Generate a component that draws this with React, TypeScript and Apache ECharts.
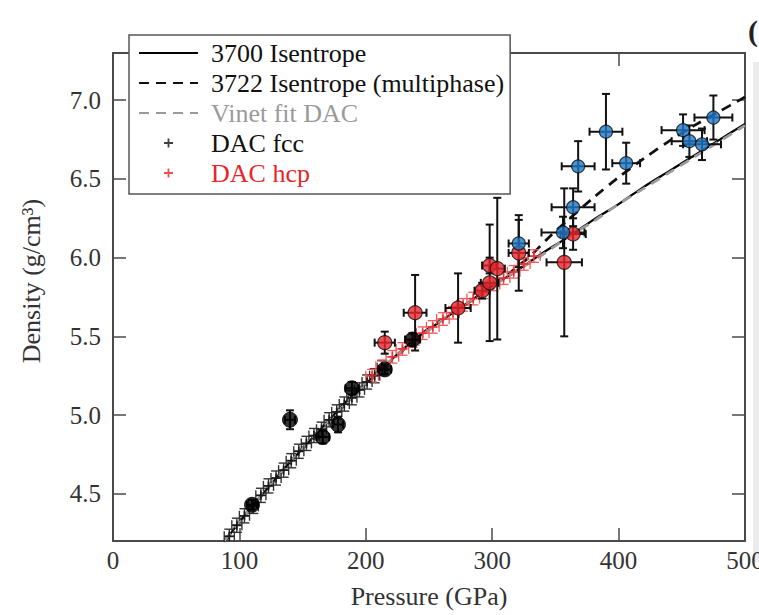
import React, { useEffect, useRef } from "react";
import * as echarts from "echarts";

// ---------- data ----------
const xTicks = [0, 100, 200, 300, 400, 500];
const yTicks = [4.5, 5.0, 5.5, 6.0, 6.5, 7.0];

// 3700 isentrope (solid)
const isoP = [88, 100, 110, 125, 140, 155, 170, 185, 200, 220, 240, 260, 280, 300, 320, 340, 360, 380, 400, 420, 440, 460, 480, 500];
const iso3700 = [4.195, 4.32, 4.42, 4.56, 4.70, 4.83, 4.96, 5.09, 5.20, 5.35, 5.49, 5.60, 5.71, 5.82, 5.92, 6.03, 6.13, 6.24, 6.34, 6.45, 6.55, 6.65, 6.75, 6.85];

// 3722 isentrope (multiphase, dashed)
const multiP = [88, 100, 125, 150, 175, 200, 225, 250, 275, 300, 315, 330, 345, 360, 380, 400, 420, 440, 460, 480, 500];
const iso3722 = [4.195, 4.32, 4.56, 4.79, 5.00, 5.20, 5.38, 5.55, 5.68, 5.82, 5.91, 6.01, 6.13, 6.24, 6.38, 6.51, 6.63, 6.74, 6.84, 6.93, 7.02];

// Vinet fit DAC (grey dashed)
const vinetP = [88, 100, 110, 125, 140, 155, 170, 185, 200, 220, 240, 260, 280, 300, 320, 340, 360, 380, 400, 420, 440, 460, 480, 500];
const vinetRho = [4.20, 4.32, 4.42, 4.56, 4.70, 4.83, 4.96, 5.08, 5.20, 5.35, 5.48, 5.60, 5.71, 5.82, 5.92, 6.02, 6.13, 6.23, 6.34, 6.44, 6.54, 6.64, 6.74, 6.84];

// DAC fcc (black crosses)
const fccP = [92, 98, 104, 111, 117, 123, 129, 135, 141, 147, 153, 159, 165, 171, 177, 183, 189, 195, 201, 207, 213];
const fccRho = [4.23, 4.30, 4.36, 4.42, 4.49, 4.55, 4.60, 4.65, 4.71, 4.77, 4.82, 4.87, 4.91, 4.97, 5.02, 5.07, 5.11, 5.16, 5.21, 5.25, 5.30];
const fccErrP = [4, 4, 4, 4, 4, 4, 4, 4, 4, 4, 4, 4, 4, 4, 4, 4, 4, 4, 4, 4, 4];
const fccErrRho = [0.045, 0.045, 0.045, 0.045, 0.045, 0.045, 0.045, 0.045, 0.045, 0.045, 0.045, 0.045, 0.045, 0.045, 0.045, 0.045, 0.045, 0.045, 0.045, 0.045, 0.045];

// DAC hcp (red crosses)
const hcpP = [205, 213, 221, 229, 237, 245, 253, 261, 269, 277, 285, 293, 301, 309, 317, 325, 333];
const hcpRho = [5.25, 5.31, 5.37, 5.42, 5.47, 5.52, 5.56, 5.61, 5.65, 5.70, 5.74, 5.78, 5.83, 5.87, 5.91, 5.96, 6.01];
const hcpErrP = [5, 5, 5, 5, 5, 5, 5, 5, 5, 5, 5, 5, 5, 5, 5, 5, 5];
const hcpErrRho = [0.04, 0.04, 0.04, 0.04, 0.04, 0.04, 0.04, 0.04, 0.04, 0.04, 0.04, 0.04, 0.04, 0.04, 0.04, 0.04, 0.04];

// black circles
const blkP = [110, 140, 166, 178, 189, 215, 237];
const blkRho = [4.43, 4.97, 4.86, 4.94, 5.17, 5.29, 5.48];
const blkErrP = [4, 4, 5, 4, 5, 5, 6];
const blkErrRho = [0.03, 0.06, 0.04, 0.05, 0.04, 0.03, 0.04];

// red circles
const redP = [215, 239, 273, 292, 298, 298, 304, 321, 357, 364];
const redRho = [5.46, 5.65, 5.68, 5.79, 5.84, 5.95, 5.93, 6.03, 5.97, 6.15];
const redErrP = [8, 9, 10, 6, 7, 6, 6, 8, 14, 10];
const redErrRho = [0.07, 0.24, 0.22, 0.05, 0.37, 0.05, 0.45, 0.24, 0.47, 0.10];

// blue circles
const bluP = [321, 356, 364, 368, 390, 406, 451, 456, 466, 475];
const bluRho = [6.09, 6.16, 6.32, 6.58, 6.80, 6.60, 6.81, 6.74, 6.72, 6.89];
const bluErrP = [8, 17, 17, 13, 13, 11, 17, 14, 15, 15];
const bluErrRho = [0.15, 0.10, 0.12, 0.16, 0.24, 0.13, 0.10, 0.10, 0.10, 0.14];

// ---------- styling ----------
const FONT = '"Liberation Serif", "DejaVu Serif", "Times New Roman", serif';
const AXIS = "#4a4a4a";
const RED = "#e8262a";
const BLUE = "#1f77c4";
const PLUS = "path://M4,0H6V4H10V6H6V10H4V6H0V4H4Z";

const pairs = (a: number[], b: number[]) => a.map((v, i) => [v, b[i]]);

function errSeries(id: string, P: number[], R: number[], eP: number[], eR: number[], color: string, width: number, cap: number, z: number) {
  return {
    type: "custom",
    id,
    name: id,
    z,
    silent: true,
    clip: true,
    data: P.map((p, i) => [p, R[i], eP[i], eR[i]]),
    encode: { x: 0, y: 1 },
    renderItem: (_params: any, api: any) => {
      const x = api.value(0);
      const y = api.value(1);
      const ex = api.value(2);
      const ey = api.value(3);
      const l = api.coord([x - ex, y]);
      const r = api.coord([x + ex, y]);
      const t = api.coord([x, y + ey]);
      const b = api.coord([x, y - ey]);
      const style = { stroke: color, lineWidth: width };
      const ln = (x1: number, y1: number, x2: number, y2: number) => ({ type: "line", shape: { x1, y1, x2, y2 }, style });
      return {
        type: "group",
        children: [
          ln(l[0], l[1], r[0], r[1]),
          ln(t[0], t[1], b[0], b[1]),
          ln(l[0], l[1] - cap, l[0], l[1] + cap),
          ln(r[0], r[1] - cap, r[0], r[1] + cap),
          ln(t[0] - cap, t[1], t[0] + cap, t[1]),
          ln(b[0] - cap, b[1], b[0] + cap, b[1]),
        ],
      };
    },
  };
}

export default function App() {
  const ref = useRef<HTMLDivElement>(null);
  useEffect(() => {
    if (!ref.current) return;
    const chart = echarts.init(ref.current, null, { renderer: "svg" });
    const axisCommon = {
      type: "value",
      splitLine: { show: false },
      axisLine: { show: true, onZero: false, lineStyle: { color: AXIS, width: 2 } },
      axisTick: { show: true, inside: true, length: 13, lineStyle: { color: AXIS, width: 1.5 } },
    };
    const hideSym = { opacity: 0 };
    const option: any = {
      animation: false,
      backgroundColor: "#ffffff",
      textStyle: { fontFamily: FONT },
      grid: { left: 113, right: 14, top: 53, bottom: 74, containLabel: false, outerBoundsMode: "none" },
      xAxis: [
        {
          ...axisCommon,
          position: "bottom",
          min: 0,
          max: 500,
          interval: 100,
          axisLabel: {
            show: true,
            customValues: xTicks,
            margin: 7,
            fontSize: 25,
            fontFamily: FONT,
            color: "#333",
          },
          axisTick: { ...axisCommon.axisTick, customValues: xTicks },
          name: "Pressure (GPa)",
          nameLocation: "middle",
          nameGap: 42,
          nameTextStyle: { fontSize: 26, fontFamily: FONT, color: "#333" },
        },
        {
          ...axisCommon,
          position: "top",
          min: 0,
          max: 500,
          interval: 100,
          axisLabel: { show: false },
        },
      ],
      yAxis: [
        {
          ...axisCommon,
          position: "left",
          min: 4.2,
          max: 7.3,
          splitNumber: 6,
          axisLabel: {
            show: true,
            customValues: yTicks,
            formatter: (v: number) => v.toFixed(1),
            margin: 12,
            fontSize: 25,
            fontFamily: FONT,
            color: "#333",
          },
          axisTick: { ...axisCommon.axisTick, customValues: yTicks },
        },
        {
          ...axisCommon,
          position: "right",
          min: 4.2,
          max: 7.3,
          splitNumber: 6,
          axisLabel: { show: false },
          axisTick: { ...axisCommon.axisTick, customValues: yTicks },
        },
      ],
      legend: {
        orient: "vertical",
        left: 129,
        top: 35,
        z: 20,
        backgroundColor: "#ffffff",
        borderColor: "#555",
        borderWidth: 1.5,
        borderRadius: 0,
        padding: [3, 6, 6, 9],
        itemGap: 0,
        itemWidth: 59,
        itemHeight: 9,
        textStyle: { fontSize: 26, fontFamily: FONT, color: "#111", lineHeight: 30, padding: [0, 0, 0, 8] },
        data: [
          { name: "3700 Isentrope", itemStyle: hideSym },
          { name: "3722 Isentrope (multiphase)", itemStyle: hideSym },
          { name: "Vinet fit DAC", itemStyle: hideSym, textStyle: { color: "#9a9a9a" } },
          { name: "DAC fcc" },
          { name: "DAC hcp", textStyle: { color: RED } },
        ],
        selectedMode: false,
      },
      graphic: [
        {
          type: "text",
          x: 31,
          y: 281,
          rotation: Math.PI / 2,
          style: {
            text: "Density (g/cm³)",
            font: `26px ${FONT}`,
            fill: "#333",
            align: "center",
            verticalAlign: "middle",
          },
        },
        {
          type: "text",
          x: 748,
          y: 30,
          style: { text: "(", font: `bold 30px ${FONT}`, fill: "#222", align: "left", verticalAlign: "middle" },
        },
        {
          type: "rect",
          shape: { x: 753, y: 62, width: 6, height: 500 },
          style: { fill: "#ececec" },
        },
      ],
      series: [
        {
          type: "line",
          name: "3700 Isentrope",
          data: pairs(isoP, iso3700),
          smooth: 0.3,
          symbol: "none",
          z: 3,
          color: "#000",
          lineStyle: { color: "#000", width: 2.2 },
        },
        {
          type: "line",
          name: "3722 Isentrope (multiphase)",
          data: pairs(multiP, iso3722),
          smooth: 0.3,
          symbol: "none",
          z: 3,
          color: "#111",
          lineStyle: { color: "#111", width: 2.8, type: [10, 7] },
        },
        {
          type: "line",
          name: "Vinet fit DAC",
          data: pairs(vinetP, vinetRho),
          smooth: 0.3,
          symbol: "none",
          z: 3,
          color: "#9a9a9a",
          lineStyle: { color: "#9a9a9a", width: 2.8, type: [10, 7] },
        },
        errSeries("fccErr", fccP, fccRho, fccErrP, fccErrRho, "#333", 1.4, 5, 4),
        {
          type: "scatter",
          name: "DAC fcc",
          data: pairs(fccP, fccRho),
          symbol: PLUS,
          symbolSize: 9,
          z: 4,
          itemStyle: { color: "#111" },
        },
        errSeries("hcpErr", hcpP, hcpRho, hcpErrP, hcpErrRho, "#f25a5a", 1.3, 5, 4),
        {
          type: "scatter",
          name: "DAC hcp",
          data: pairs(hcpP, hcpRho),
          symbol: PLUS,
          symbolSize: 9,
          z: 4,
          itemStyle: { color: RED },
        },
        errSeries("blkErr", blkP, blkRho, blkErrP, blkErrRho, "#111", 2, 4, 5),
        errSeries("redErr", redP, redRho, redErrP, redErrRho, "#111", 2, 4, 5),
        errSeries("bluErr", bluP, bluRho, bluErrP, bluErrRho, "#111", 2, 4, 5),
        {
          type: "scatter",
          name: "fccCircles",
          data: pairs(blkP, blkRho),
          symbol: "circle",
          symbolSize: 15,
          z: 6,
          itemStyle: { color: "#000", borderColor: "#000", borderWidth: 1 },
        },
        {
          type: "scatter",
          name: "hcpCircles",
          data: pairs(redP, redRho),
          symbol: "circle",
          symbolSize: 14,
          z: 6,
          itemStyle: { color: RED, borderColor: "#111", borderWidth: 1.2 },
        },
        {
          type: "scatter",
          name: "blueCircles",
          data: pairs(bluP, bluRho),
          symbol: "circle",
          symbolSize: 13,
          z: 6,
          itemStyle: { color: BLUE, borderColor: "#111", borderWidth: 1.2 },
        },
      ],
    };
    chart.setOption(option);
    return () => chart.dispose();
  }, []);
  return (
    <div
      ref={ref}
      style={{ position: "fixed", left: 0, top: 0, width: 759, height: 615, background: "#fff" }}
    />
  );
}
